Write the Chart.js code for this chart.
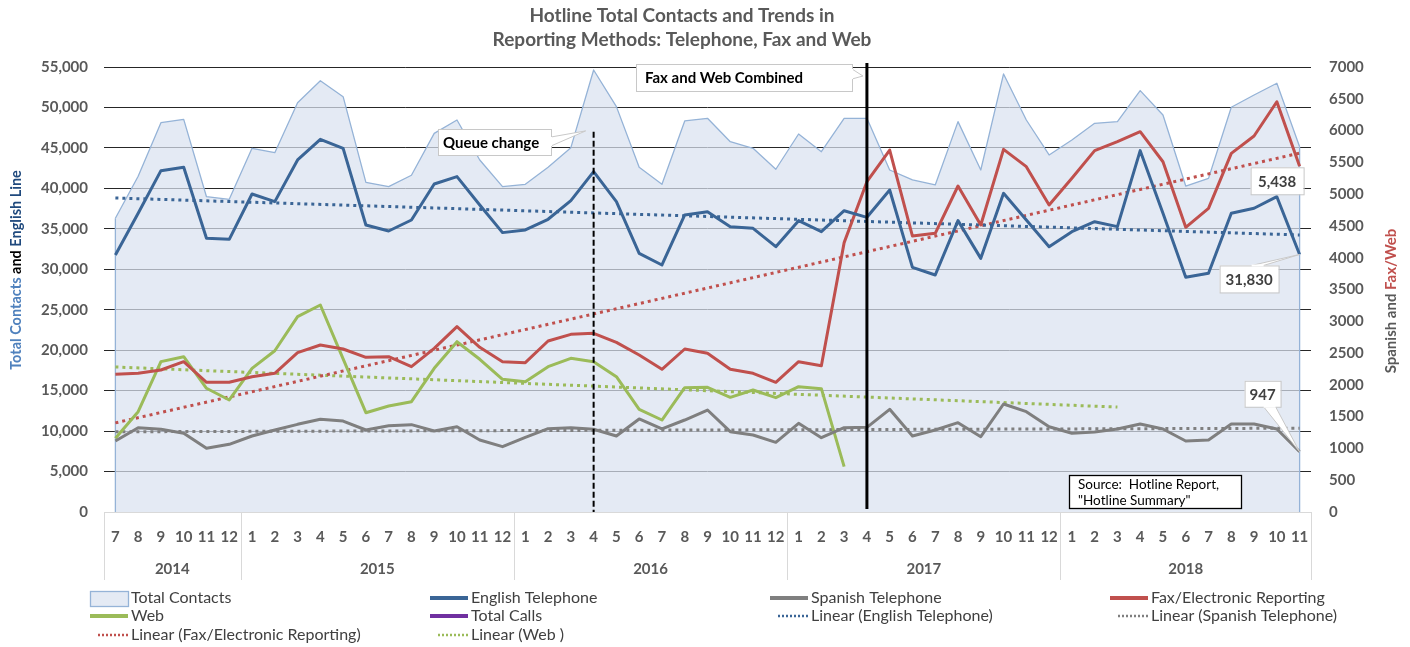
<!DOCTYPE html>
<html>
<head>
<meta charset="utf-8">
<title>Hotline Total Contacts and Trends</title>
<script src="https://cdn.jsdelivr.net/npm/chart.js@4.4.1/dist/chart.umd.min.js"></script>
<style>
  html, body { margin: 0; padding: 0; background: #fff; }
</style>
</head>
<body>
<canvas id="chart" width="1410" height="647"></canvas>
<script>
// months Jul 2014 .. Nov 2018
const months = ['7','8','9','10','11','12',
  '1','2','3','4','5','6','7','8','9','10','11','12',
  '1','2','3','4','5','6','7','8','9','10','11','12',
  '1','2','3','4','5','6','7','8','9','10','11','12',
  '1','2','3','4','5','6','7','8','9','10','11'];
const years = ['2014', '2015', '2016', '2017', '2018'];

// left axis (contacts)
const totalContacts = [36300, 41500, 48120, 48530, 38970, 38650, 44950, 44410, 50590, 53310, 51330, 40750,
  40210, 41620, 46800, 48450, 43500, 40210, 40500, 42600, 45030, 54630, 50100, 42600, 40500, 48330, 48660,
  45770, 44950, 42360, 46720, 44530, 48660, 48660, 42270, 41040, 40420, 48250, 42270, 54140, 48450, 44130,
  45980, 48040, 48250, 52080, 49070, 40290, 41240, 50020, 51540, 52990, 45150];
const englishPhone = [31770, 36920, 42190, 42600, 33830, 33700, 39300, 38360, 43510, 46060, 44950, 35470,
  34730, 36090, 40540, 41450, 37950, 34530, 34860, 36180, 38480, 42070, 38360, 31970, 30530, 36710, 37120,
  35270, 35060, 32790, 36010, 34650, 37240, 36420, 39800, 30240, 29290, 36010, 31350, 39390, 36090, 32790,
  34650, 35880, 35270, 44660, 36920, 29010, 29500, 36920, 37540, 38970, 31830];

// right axis (Spanish and Fax/Web)
const spanishPhone = [1117, 1326, 1301, 1238, 1002, 1065, 1195, 1290, 1379, 1458, 1431, 1290, 1358, 1374,
  1274, 1342, 1133, 1028, 1175, 1311, 1326, 1301, 1195, 1463, 1306, 1447, 1604, 1263, 1211, 1096, 1395,
  1169, 1326, 1332, 1615, 1195, 1290, 1405, 1185, 1699, 1578, 1342, 1238, 1258, 1306, 1384, 1306, 1117,
  1133, 1384, 1384, 1306, 947];
const faxReporting = [2166, 2182, 2234, 2365, 2040, 2040, 2128, 2182, 2506, 2627, 2564, 2433, 2443, 2286,
  2575, 2915, 2590, 2365, 2349, 2690, 2795, 2811, 2669, 2470, 2245, 2564, 2496, 2245, 2182, 2040, 2365,
  2302, 4237, 5196, 5694, 4341, 4384, 5128, 4515, 5705, 5432, 4829, 5249, 5684, 5825, 5982, 5510, 4478,
  4777, 5642, 5914, 6454, 5438];
const web = [1159, 1578, 2365, 2443, 1946, 1762, 2260, 2537, 3072, 3256, 2410, 1562, 1667, 1735, 2260,
  2679, 2402, 2087, 2050, 2286, 2417, 2365, 2128, 1615, 1447, 1955, 1961, 1804, 1919, 1798, 1971, 1940, 713];
const totalCalls = [];

// trend line end values [first, last]
const trendEnglish = [38810, 34240];
const trendSpanish = [1262, 1318];
const trendFax = [1402, 5645];
const trendWeb = [2281, 1650];
const trendWebLastIndex = 44;

// annotation months (index into months)
const queueChangeIndex = 21;
const combinedIndex = 33;

const FONT = 'Lato, "Open Sans", sans-serif';
const TXT = '#595959';

function endpoints(pair, last) {
  return months.map((m, i) => i === 0 ? pair[0] : (i === last ? pair[1] : null));
}

function line(label, data, color, axis, extra) {
  return Object.assign({
    label: label, data: data, borderColor: color, backgroundColor: color, yAxisID: axis,
    borderWidth: 3, pointRadius: 0, pointHoverRadius: 3, tension: 0, fill: false,
    borderJoinStyle: 'round'
  }, extra || {});
}
const dotted = { borderWidth: 3, borderDash: [3, 4], spanGaps: true, order: 1 };

const datasets = [
  line('Total Contacts', totalContacts, '#95b3d7', 'y',
    { fill: 'origin', backgroundColor: 'rgba(217,226,240,0.72)', borderWidth: 1.3, order: 10 }),
  line('English Telephone', englishPhone, '#3a6596', 'y'),
  line('Spanish Telephone', spanishPhone, '#7f7f7f', 'y1'),
  line('Fax/Electronic Reporting', faxReporting, '#c0504d', 'y1'),
  line('Web', web, '#9bbb59', 'y1'),
  line('Total Calls', totalCalls, '#7030a0', 'y1'),
  line('Linear (English Telephone)', endpoints(trendEnglish, months.length - 1), '#3a6596', 'y', dotted),
  line('Linear (Spanish Telephone)', endpoints(trendSpanish, months.length - 1), '#7f7f7f', 'y1', dotted),
  line('Linear (Fax/Electronic Reporting)', endpoints(trendFax, months.length - 1), '#c0504d', 'y1', dotted),
  line('Linear (Web )', endpoints(trendWeb, trendWebLastIndex), '#9bbb59', 'y1', dotted)
];

function richText(ctx, parts, cx, cy, rot, font) {
  ctx.save();
  ctx.font = font;
  ctx.translate(cx, cy);
  ctx.rotate(rot);
  const total = parts.reduce((s, p) => s + ctx.measureText(p[0]).width, 0);
  let x = -total / 2;
  ctx.textBaseline = 'middle';
  ctx.textAlign = 'left';
  parts.forEach(p => {
    ctx.fillStyle = p[1];
    ctx.fillText(p[0], x, 0);
    x += ctx.measureText(p[0]).width;
  });
  ctx.restore();
}

// white box with a wedge pointing at tip
function callout(ctx, box, tip, base, text, textX, color) {
  ctx.save();
  ctx.fillStyle = '#fff';
  ctx.strokeStyle = '#c8c8c8';
  ctx.lineWidth = 1;
  if (tip) {
    ctx.beginPath();
    ctx.moveTo(base[0][0], base[0][1]);
    ctx.lineTo(tip.x, tip.y);
    ctx.lineTo(base[1][0], base[1][1]);
    ctx.closePath();
    ctx.fill();
    ctx.stroke();
  }
  ctx.fillRect(box.x, box.y, box.w, box.h);
  ctx.strokeRect(box.x + 0.5, box.y + 0.5, box.w, box.h);
  if (tip) {
    // hide the wedge base where it meets the box
    ctx.beginPath();
    ctx.moveTo(base[0][0], base[0][1]);
    ctx.lineTo(base[1][0], base[1][1]);
    ctx.strokeStyle = '#fff';
    ctx.lineWidth = 2;
    ctx.stroke();
  }
  ctx.font = 'bold 15px ' + FONT;
  ctx.fillStyle = color || '#000';
  ctx.textBaseline = 'middle';
  if (textX == null) {
    ctx.textAlign = 'center';
    ctx.fillText(text, box.x + box.w / 2, box.y + box.h / 2 + 1);
  } else {
    ctx.textAlign = 'left';
    ctx.fillText(text, textX, box.y + box.h / 2 + 1);
  }
  ctx.restore();
}

const decor = {
  id: 'decor',
  afterDatasetDraw(chart, args) {
    if (args.index !== 0) return;
    const pts = args.meta.data;
    const ctx = chart.ctx;
    const bottom = chart.chartArea.bottom;
    ctx.save();
    ctx.strokeStyle = '#95b3d7';
    ctx.lineWidth = 1.3;
    [pts[0], pts[pts.length - 1]].forEach(p => {
      ctx.beginPath();
      ctx.moveTo(p.x, p.y);
      ctx.lineTo(p.x, bottom);
      ctx.stroke();
    });
    ctx.restore();
  },
  afterDraw(chart) {
    const ctx = chart.ctx;
    const area = chart.chartArea;
    const xs = chart.scales.x;
    const yl = chart.scales.y;

    // title
    ctx.save();
    ctx.font = 'bold 19px ' + FONT;
    ctx.fillStyle = TXT;
    ctx.textAlign = 'center';
    ctx.textBaseline = 'middle';
    ctx.fillText('Hotline Total Contacts and Trends in', 682, 16);
    ctx.fillText('Reporting Methods: Telephone, Fax and Web', 682, 40);
    ctx.restore();

    // axis titles
    richText(ctx, [['Total Contacts ', '#4f81bd'], ['and ', '#000'], ['English Line', '#1f497d']],
      16, 270, -Math.PI / 2, 'bold 14.5px ' + FONT);
    richText(ctx, [['Spanish and ', '#595959'], ['Fax/Web', '#c0504d']],
      1391, 301, -Math.PI / 2, 'bold 15px ' + FONT);

    // year groups under the month labels
    const starts = [];
    months.forEach((m, i) => { if (i === 0 || m === '1') starts.push(i); });
    ctx.save();
    ctx.strokeStyle = '#d9d9d9';
    ctx.lineWidth = 1;
    ctx.font = 'bold 15px ' + FONT;
    ctx.fillStyle = TXT;
    ctx.textAlign = 'center';
    ctx.textBaseline = 'middle';
    const edges = starts.map(i => i === 0 ? area.left : (xs.getPixelForValue(i - 1) + xs.getPixelForValue(i)) / 2);
    edges.push(area.right);
    edges.forEach(x => {
      ctx.beginPath();
      ctx.moveTo(Math.round(x) + 0.5, area.bottom);
      ctx.lineTo(Math.round(x) + 0.5, area.bottom + 68);
      ctx.stroke();
    });
    years.forEach((y, k) => ctx.fillText(y, (edges[k] + edges[k + 1]) / 2, area.bottom + 57));
    ctx.restore();

    // event lines
    const qx = xs.getPixelForValue(queueChangeIndex);
    const cx = xs.getPixelForValue(combinedIndex);
    ctx.save();
    ctx.strokeStyle = '#000';
    ctx.lineWidth = 2;
    ctx.setLineDash([6, 3]);
    ctx.beginPath();
    ctx.moveTo(qx, yl.getPixelForValue(47000));
    ctx.lineTo(qx, area.bottom);
    ctx.stroke();
    ctx.setLineDash([]);
    ctx.lineWidth = 3;
    ctx.beginPath();
    ctx.moveTo(cx, area.top - 4);
    ctx.lineTo(cx, area.bottom - 3);
    ctx.stroke();
    ctx.restore();

    callout(ctx, { x: 438, y: 129, w: 113, h: 26 }, { x: qx - 8, y: yl.getPixelForValue(47100) },
      [[551, 137], [551, 146]], 'Queue change', 443);
    callout(ctx, { x: 636, y: 64, w: 216, h: 27 }, { x: cx - 4, y: area.top + 9 },
      [[852, 69], [852, 79]], 'Fax and Web Combined', 645);

    // data labels on the last points
    const last = months.length - 1;
    const pFax = chart.getDatasetMeta(3).data[last];
    const pEng = chart.getDatasetMeta(1).data[last];
    const pSpa = chart.getDatasetMeta(2).data[last];
    callout(ctx, { x: pFax.x - 49, y: pFax.y + 1, w: 53, h: 27 }, null, null,
      faxReporting[last].toLocaleString('en-US'), null, '#404040');
    callout(ctx, { x: pEng.x - 80, y: pEng.y + 11, w: 59, h: 27 }, pEng,
      [[pEng.x - 48, pEng.y + 11], [pEng.x - 36, pEng.y + 11]],
      englishPhone[last].toLocaleString('en-US'), null, '#404040');
    callout(ctx, { x: pSpa.x - 55, y: pSpa.y - 71, w: 36, h: 26 }, pSpa,
      [[pSpa.x - 36, pSpa.y - 45], [pSpa.x - 24, pSpa.y - 45]],
      spanishPhone[last].toLocaleString('en-US'), null, '#404040');

    // source note
    ctx.save();
    ctx.fillStyle = '#fff';
    ctx.fillRect(1069, 475, 172, 33);
    ctx.strokeStyle = '#000';
    ctx.lineWidth = 1.3;
    ctx.strokeRect(1069.5, 475.5, 172, 33);
    ctx.fillStyle = '#000';
    ctx.font = '13.5px ' + FONT;
    ctx.textAlign = 'left';
    ctx.textBaseline = 'middle';
    ctx.fillText('Source:  Hotline Report,', 1078, 485);
    ctx.fillText('"Hotline Summary"', 1078, 501);
    ctx.restore();

    // legend, four columns
    const colX = [90, 430, 770, 1110];
    const rowY = [598, 616, 635];
    ctx.save();
    ctx.font = '16px ' + FONT;
    ctx.textBaseline = 'middle';
    ctx.textAlign = 'left';
    chart.data.datasets.forEach((d, i) => {
      const x = colX[i % 4];
      const y = rowY[Math.floor(i / 4)];
      if (d.fill) {
        ctx.fillStyle = d.backgroundColor;
        ctx.fillRect(x, y - 7, 38, 15);
        ctx.strokeStyle = d.borderColor;
        ctx.lineWidth = 1.3;
        ctx.strokeRect(x + 0.5, y - 6.5, 38, 15);
      } else {
        ctx.strokeStyle = d.borderColor;
        ctx.lineWidth = d.borderDash ? 2.5 : 4;
        ctx.setLineDash(d.borderDash ? [2, 2] : []);
        ctx.beginPath();
        ctx.moveTo(d.borderDash ? x + 8 : x, y);
        ctx.lineTo(x + 38, y);
        ctx.stroke();
        ctx.setLineDash([]);
      }
      ctx.fillStyle = '#404040';
      ctx.fillText(d.label, x + 41, y);
    });
    ctx.restore();
  }
};

Chart.defaults.font.family = FONT;

new Chart(document.getElementById('chart'), {
  type: 'line',
  data: { labels: months, datasets: datasets },
  options: {
    responsive: false,
    animation: false,
    layout: { padding: { top: 67, left: 0, right: 0, bottom: 0 } },
    plugins: {
      legend: { display: false },
      title: { display: false },
      tooltip: { mode: 'index', intersect: false }
    },
    scales: {
      x: {
        type: 'category',
        offset: true,
        grid: { display: false, drawTicks: false },
        border: { display: true, color: '#d9d9d9' },
        ticks: { autoSkip: false, maxRotation: 0, padding: 16, color: TXT, font: { size: 15, weight: 'bold' } },
        afterFit(s) { s.height = 135; }
      },
      y: {
        position: 'left',
        min: 0, max: 55000,
        grid: {
          drawTicks: false,
          color: c => c.tick && c.tick.value === 0 ? 'rgba(0,0,0,0)' : '#262626'
        },
        border: { display: false },
        ticks: {
          stepSize: 5000, padding: 16, color: TXT, font: { size: 15, weight: 'bold' },
          callback: v => v.toLocaleString('en-US')
        },
        afterFit(s) { s.width = 104; }
      },
      y1: {
        position: 'right',
        min: 0, max: 7000,
        grid: { display: false, drawTicks: false },
        border: { display: false },
        ticks: {
          stepSize: 500, padding: 18, color: TXT, font: { size: 15, weight: 'bold' },
          callback: v => String(v)
        },
        afterFit(s) { s.width = 99; }
      }
    }
  },
  plugins: [decor]
});
</script>
</body>
</html>
